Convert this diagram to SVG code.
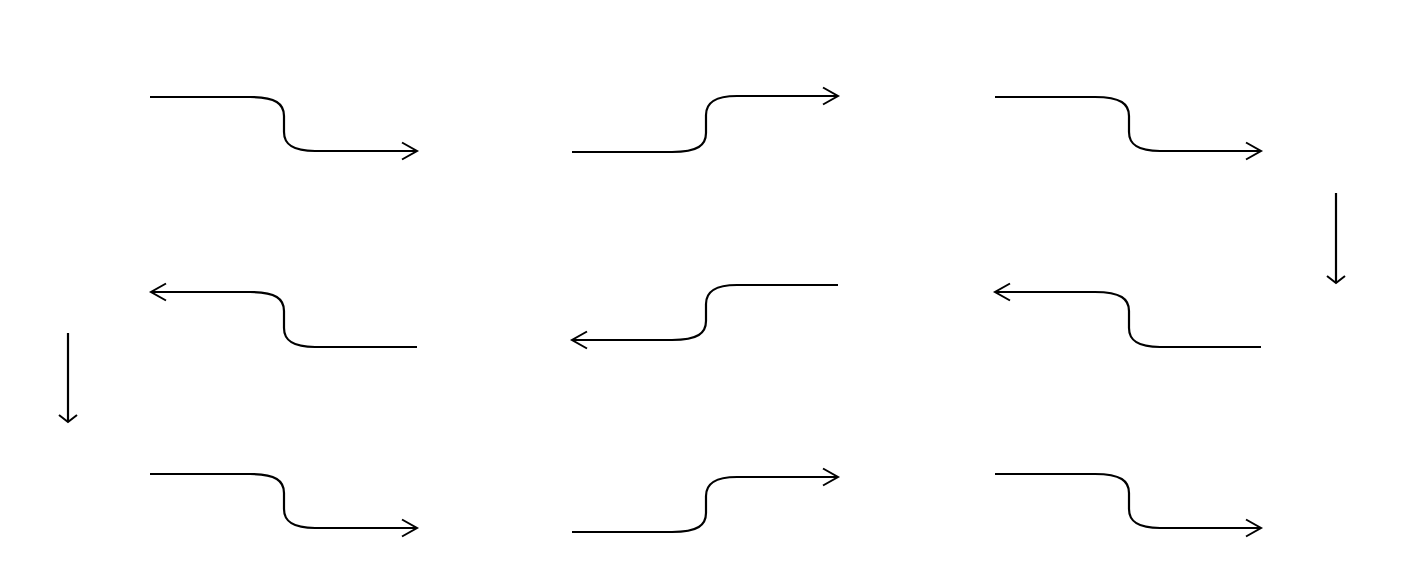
<svg xmlns="http://www.w3.org/2000/svg" width="1409" height="563" viewBox="0 0 1409 563">
<style>
.c{fill:none;stroke:#000;stroke-width:2.2;stroke-linecap:butt;stroke-linejoin:round}
</style>
<defs>
<marker id="ah" markerUnits="userSpaceOnUse" markerWidth="20" markerHeight="22" refX="16" refY="9.5" orient="auto-start-reverse" overflow="visible">
<path d="M1,1 L16,9.5 L1,18" fill="none" stroke="#000" stroke-width="2"/>
</marker>
<marker id="av" markerUnits="userSpaceOnUse" markerWidth="20" markerHeight="22" refX="8" refY="9.5" orient="auto" overflow="visible">
<path d="M1,0.5 L8,9.5 L1,18.5" fill="none" stroke="#000" stroke-width="2"/>
</marker>
</defs>
<rect width="1409" height="563" fill="#fff"/>
<g id="connectors">
<g id="r1c1"><path class="c" marker-end="url(#ah)" d="M150,97 H250 C276,97 284,104 284,116 V132 C284,144 292,151 315,151 H417"/></g>
<g id="r1c2"><path class="c" marker-end="url(#ah)" d="M572,152 H672 C698,152 706,145 706,133 V115 C706,103 714,96 737,96 H838"/></g>
<g id="r1c3"><path class="c" marker-end="url(#ah)" d="M995,97 H1095 C1121,97 1129,104 1129,116 V132 C1129,144 1137,151 1160,151 H1261"/></g>
<g id="r2c1"><path class="c" marker-start="url(#ah)" d="M151,292 H250 C276,292 284,299 284,311 V328 C284,340 292,347 315,347 H417"/></g>
<g id="r2c2"><path class="c" marker-start="url(#ah)" d="M572,340 H672 C698,340 706,333 706,321 V304 C706,292 714,285 737,285 H838"/></g>
<g id="r2c3"><path class="c" marker-start="url(#ah)" d="M995,292 H1095 C1121,292 1129,299 1129,311 V328 C1129,340 1137,347 1160,347 H1261"/></g>
<g id="r3c1"><path class="c" marker-end="url(#ah)" d="M150,474 H250 C276,474 284,481 284,493 V509 C284,521 292,528 315,528 H417"/></g>
<g id="r3c2"><path class="c" marker-end="url(#ah)" d="M572,532 H672 C698,532 706,525 706,513 V496 C706,484 714,477 737,477 H838"/></g>
<g id="r3c3"><path class="c" marker-end="url(#ah)" d="M995,474 H1095 C1121,474 1129,481 1129,493 V509 C1129,521 1137,528 1160,528 H1261"/></g>
<g id="v1"><path class="c" marker-end="url(#av)" d="M1336,193 V283"/></g>
<g id="v2"><path class="c" marker-end="url(#av)" d="M68,333 V422"/></g>
</g>
</svg>
